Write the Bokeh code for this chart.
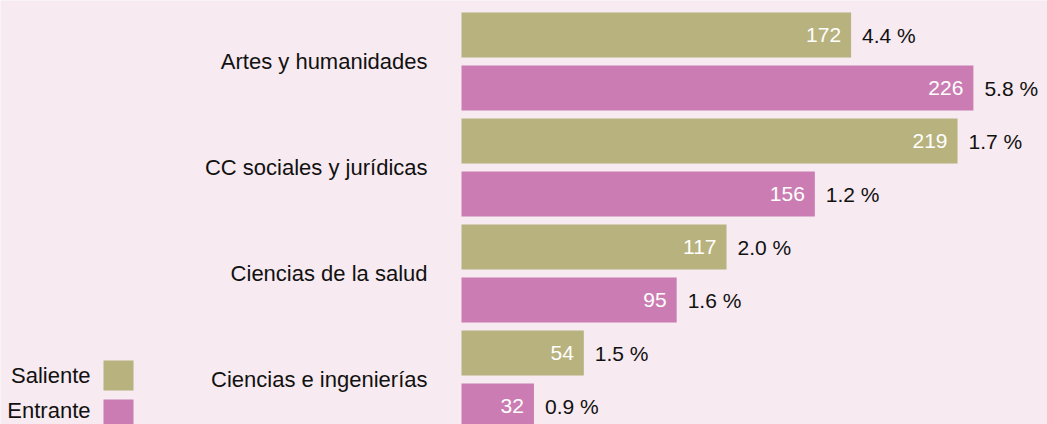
from bokeh.plotting import figure
from bokeh.models import ColumnDataSource, Range1d
from bokeh.core.properties import value
from bokeh.embed import file_html
from bokeh.resources import INLINE

# ---- data ----
categories = ["Artes y humanidades", "CC sociales y jurídicas",
              "Ciencias de la salud", "Ciencias e ingenierías"]
saliente = [172, 219, 117, 54]
entrante = [226, 156, 95, 32]
pct_saliente = ["4.4", "1.7", "2.0", "1.5"]
pct_entrante = ["5.8", "1.2", "1.6", "0.9"]
series_names = ["Saliente", "Entrante"]

# ---- styles ----
BG = "#f7eaf0"
C_SAL = "#b8b27e"
C_ENT = "#cb7db3"
FONT = "Liberation Sans"
FS_VAL = "21px"
FS_CAT = "22px"

# ---- layout (pixels) ----
W, H = 1047, 424
PX_PER_UNIT = 2.265
ZERO_PX = 461          # x pixel of value 0 inside the frame
PITCH = 53             # px between bar centres
FIRST_CENTRE = 34.5    # px from frame top to first bar centre

x0 = -ZERO_PX / PX_PER_UNIT
x1 = (W - ZERO_PX) / PX_PER_UNIT
y_top = -FIRST_CENTRE / PITCH
y_bot = (H - FIRST_CENTRE) / PITCH

p = figure(width=W, height=H, output_backend="svg", toolbar_location=None,
           x_range=Range1d(x0, x1), y_range=Range1d(y_bot, y_top),
           min_border=0, background_fill_color=BG, border_fill_color=BG,
           outline_line_color=None)
p.axis.visible = False
p.grid.visible = False

ys, vals, cols, pcts = [], [], [], []
for i in range(len(categories)):
    ys += [2 * i, 2 * i + 1]
    vals += [saliente[i], entrante[i]]
    cols += [C_SAL, C_ENT]
    pcts += [pct_saliente[i] + " %", pct_entrante[i] + " %"]

src = ColumnDataSource(dict(y=ys, v=vals, c=cols, lab=[str(v) for v in vals], pct=pcts))
p.hbar(y="y", left=0, right="v", height=45 / PITCH, fill_color="c",
       line_color=None, source=src)
p.text(x="v", y="y", text="lab", x_offset=-10, text_align="right",
       text_baseline="middle", text_color="white", text_font=value(FONT),
       text_font_size=FS_VAL, source=src)
p.text(x="v", y="y", text="pct", x_offset=11, text_align="left",
       text_baseline="middle", text_color="#111111", text_font=value(FONT),
       text_font_size=FS_VAL, source=src)

# category labels
cat_src = ColumnDataSource(dict(y=[2 * i + 0.5 for i in range(len(categories))],
                                t=categories))
p.text(x=0, y="y", text="t", x_offset=-34, text_align="right",
       text_baseline="middle", text_color="#111111", text_font=value(FONT),
       text_font_size=FS_CAT, source=cat_src)

# legend (label left of swatch)
sw_x = (118 - ZERO_PX) / PX_PER_UNIT
leg_y = [(375 - FIRST_CENTRE) / PITCH, (414 - FIRST_CENTRE) / PITCH]
txt_y = [(375 - FIRST_CENTRE) / PITCH, (410 - FIRST_CENTRE) / PITCH]
leg_src = ColumnDataSource(dict(x=[sw_x, sw_x], y=leg_y, ty=txt_y,
                                c=[C_SAL, C_ENT], t=series_names))
p.rect(x="x", y="y", width=30, height=30, width_units="screen", height_units="screen",
       fill_color="c", line_color=None, source=leg_src)
p.text(x="x", y="ty", text="t", x_offset=-28, text_align="right",
       text_baseline="middle", text_color="#111111", text_font=value(FONT),
       text_font_size=FS_CAT, source=leg_src)

html = file_html(p, INLINE)
html = html.replace("<body>", '<body style="background-color:%s">' % BG, 1)
open("out.html", "w").write(html)
